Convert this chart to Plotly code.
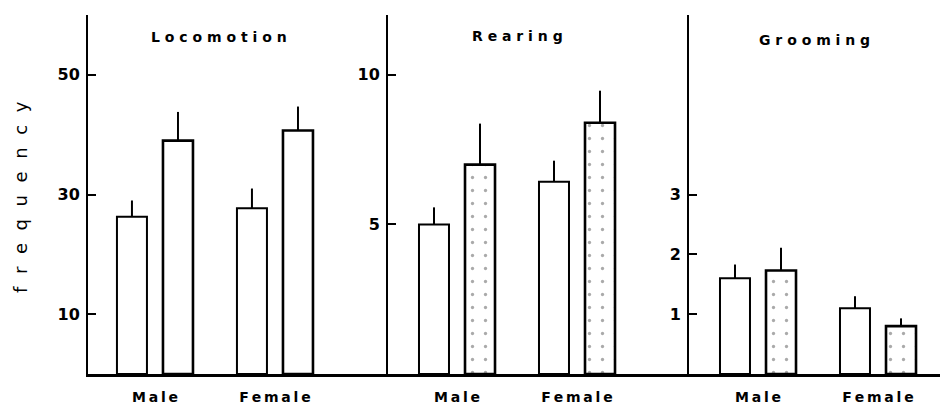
import plotly.graph_objects as go

# page has an 8px body margin; work in page pixels and shift
OFF = 8
W, H = 948 - OFF, 407 - OFF

# ---- data ----
sexes = ["Male", "Female"]
panels = ["Locomotion", "Rearing", "Grooming"]

loco_a = [26.3, 27.7]
loco_b = [39.0, 40.7]
loco_a_err = [2.7, 3.3]
loco_b_err = [4.8, 4.0]

rear_a = [5.0, 6.43]
rear_b = [7.0, 8.4]
rear_a_err = [0.57, 0.70]
rear_b_err = [1.37, 1.07]

groom_a = [1.6, 1.1]
groom_b = [1.73, 0.8]
groom_a_err = [0.23, 0.20]
groom_b_err = [0.38, 0.13]

y_ticks = [[10, 30, 50], [5, 10], [1, 2, 3]]
y_max = [60, 12, 6]

series = [
    (loco_a, loco_a_err, loco_b, loco_b_err, False),
    (rear_a, rear_a_err, rear_b, rear_b_err, True),
    (groom_a, groom_a_err, groom_b, groom_b_err, True),
]

FONT = "DejaVu Sans"


def spaced(s, sep="\u2009"):
    return sep.join(s)


def fx(px):
    return (px - OFF) / W


def fy(py):
    return (H - (py - OFF)) / H


fig = go.Figure()

for i, (a, ae, b, be, stipple) in enumerate(series):
    xa = "x" if i == 0 else f"x{i+1}"
    ya = "y" if i == 0 else f"y{i+1}"
    fig.add_trace(go.Bar(
        x=sexes, y=a, xaxis=xa, yaxis=ya, offsetgroup="a",
        marker=dict(color="white", line=dict(color="black", width=2)),
        error_y=dict(type="data", symmetric=False, array=ae,
                     arrayminus=[0] * len(ae), width=0, thickness=2,
                     color="black"),
        showlegend=False,
    ))
    mk = dict(color="white", line=dict(color="black", width=2.6))
    if stipple:
        mk["pattern"] = dict(shape=".", fgcolor="#555", bgcolor="white",
                             size=13, solidity=0.05, fillmode="overlay")
    fig.add_trace(go.Bar(
        x=sexes, y=b, xaxis=xa, yaxis=ya, offsetgroup="b",
        marker=mk,
        error_y=dict(type="data", symmetric=False, array=be,
                     arrayminus=[0] * len(be), width=0, thickness=2,
                     color="black"),
        showlegend=False,
    ))

x_dom = [(88, 388), (388, 689), (689, 940)]
x_left = [-0.558, -0.575, -0.575]
px_per_unit = 120.0
y_bot, y_top = 374, 15

layout = dict(
    width=W, height=H,
    margin=dict(l=0, r=0, t=0, b=0),
    paper_bgcolor="white", plot_bgcolor="rgba(0,0,0,0)",
    barmode="group", bargap=0.233, bargroupgap=0.348,
    font=dict(family=FONT, color="black"),
    annotations=[],
)

for i in range(3):
    sx = "" if i == 0 else str(i + 1)
    d0, d1 = x_dom[i]
    rng = [x_left[i], x_left[i] + (d1 - d0) / px_per_unit]
    layout[f"xaxis{sx}"] = dict(
        domain=[fx(d0), fx(d1)], range=rng, anchor=f"y{sx}",
        showline=True, linewidth=2.5, linecolor="black",
        showgrid=False, zeroline=False, ticks="",
        tickvals=sexes, ticktext=[spaced(s, "\u2009") for s in sexes],
        tickfont=dict(family=FONT, size=14, weight="bold"),
        ticklabelstandoff=8, fixedrange=True,
    )
    layout[f"yaxis{sx}"] = dict(
        domain=[fy(y_bot), fy(y_top)], range=[0, y_max[i]],
        anchor=f"x{sx}",
        showline=True, linewidth=2, linecolor="black",
        showgrid=False, zeroline=False,
        ticks="inside", ticklen=8, tickwidth=2, tickcolor="black",
        tickvals=y_ticks[i],
        tickfont=dict(family=FONT, size=16, weight="bold"),
        ticklabelstandoff=3, fixedrange=True,
    )

title_pos = [(219, 37), (517, 36), (814, 40)]
for name, (px, py) in zip(panels, title_pos):
    layout["annotations"].append(dict(
        text=spaced(name, " "), x=fx(px), y=fy(py),
        xref="paper", yref="paper", showarrow=False,
        xanchor="center", yanchor="middle",
        font=dict(family=FONT, size=14, color="black", weight="bold"),
    ))

layout["annotations"].append(dict(
    text=spaced("frequency", "\u2002\u2009"), x=fx(20), y=fy(197),
    xref="paper", yref="paper", showarrow=False, textangle=-90,
    xanchor="center", yanchor="middle",
    font=dict(family=FONT, size=18, color="black"),
))

fig.update_layout(**layout)
fig.write_html("out.html")
